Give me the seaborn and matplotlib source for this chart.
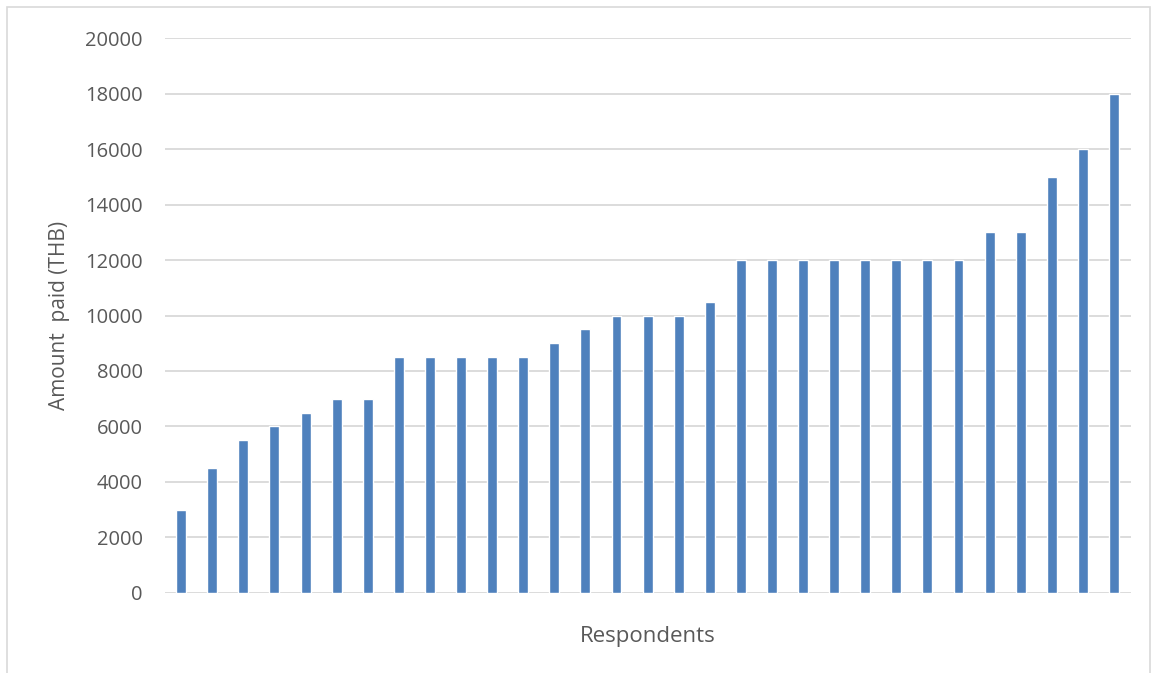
import numpy as np
import pandas as pd
import matplotlib
matplotlib.use("Agg")
import matplotlib.pyplot as plt
import seaborn as sns
from matplotlib.patches import Rectangle

# Amount paid by each respondent, sorted ascending
amounts = [3000, 4500, 5500, 6000, 6500, 7000, 7000, 8500, 8500, 8500,
           8500, 8500, 9000, 9500, 10000, 10000, 10000, 10500, 12000, 12000,
           12000, 12000, 12000, 12000, 12000, 12000, 13000, 13000, 15000, 16000,
           18000]
respondents = list(range(1, len(amounts) + 1))
y_ticks = [0, 2000, 4000, 6000, 8000, 10000, 12000, 14000, 16000, 18000, 20000]

df = pd.DataFrame({"Respondent": respondents, "Amount": amounts})

sns.set_style("white")
plt.rcParams['font.family'] = ['Open Sans', 'DejaVu Sans']

fig = plt.figure(figsize=(11.57, 6.73), dpi=100)
ax = fig.add_axes([0.1426, 0.1189, 0.835, 0.8246])

sns.barplot(data=df, x="Respondent", y="Amount", color="#4F81BD",
            saturation=1, width=0.32, ax=ax, zorder=3)

ax.set_ylim(0, 20000)
ax.set_xlim(-0.52, len(amounts) - 0.45)
ax.set_yticks(y_ticks)
ax.set_yticklabels([str(t) for t in y_ticks], fontsize=14.5, color="#595959")
ax.set_xticks([])
ax.yaxis.grid(True, color="#D9D9D9", linewidth=1.3, zorder=0)
ax.set_axisbelow(True)
for s in ax.spines.values():
    s.set_visible(False)
ax.tick_params(axis="y", length=0, pad=16)

ax.set_xlabel("Respondents", fontsize=16, color="#595959", labelpad=24)
ax.set_ylabel("Amount  paid (THB)", fontsize=15, color="#595959", labelpad=11)

# outer chart frame
fig.patches.append(Rectangle((7 / 1157, -0.01), 1143 / 1157, 1 - 7 / 673 + 0.01,
                             transform=fig.transFigure, fill=False,
                             edgecolor="#D9D9D9", linewidth=1.2))

fig.savefig("out.png", dpi=100)
